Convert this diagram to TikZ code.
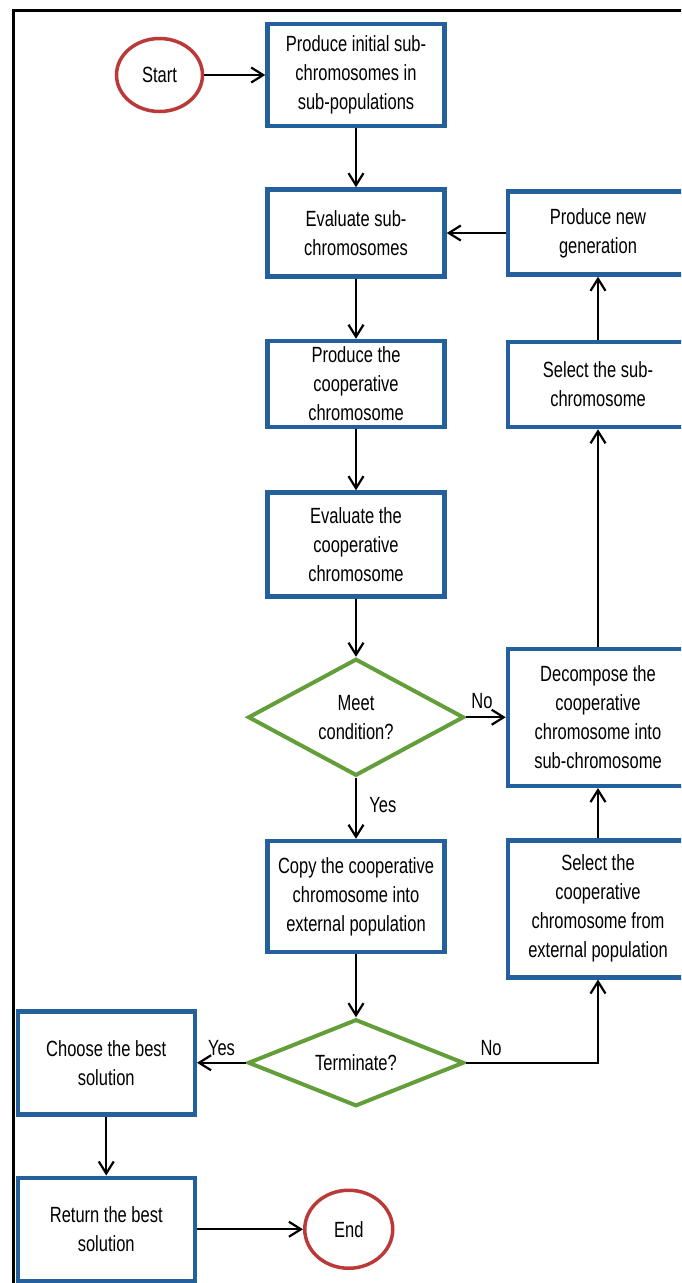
\documentclass[tikz,border=0pt]{standalone}
\usepackage{fontspec}
\setmainfont{Liberation Sans}[FakeStretch=0.75]
\usetikzlibrary{positioning, shapes.geometric, arrows.meta}
\definecolor{boxblue}{RGB}{36,96,156}
\definecolor{condgreen}{RGB}{100,158,58}
\definecolor{termred}{RGB}{186,58,58}

\begin{document}
\begin{tikzpicture}[
        x=1pt, y=1pt,
        font=\fontsize{22}{29}\selectfont,
        proc/.style={rectangle, draw=boxblue, line width=4.5pt, minimum width=177pt, align=center, inner sep=2pt},
        cond/.style={diamond, draw=condgreen, line width=4pt, aspect=2, minimum width=216pt, minimum height=117pt, align=center, inner sep=0pt},
        term/.style={ellipse, draw=termred, line width=3.5pt, minimum width=86pt, minimum height=73pt},
        flow/.style={-{Straight Barb[length=12pt, width=15pt]}, line width=2.2pt}
    ]
        \useasboundingbox (0,0) rectangle (681,-1283);
        \clip (0,0) rectangle (681,-1283);
        \draw[line width=3pt] (13,-10) rectangle (720,-1320);

        \node[proc, minimum height=102pt] (B1) at (356,-75) {Produce initial sub-\\chromosomes in\\sub-populations};
        \node[term, left=61pt of B1] (St) {Start};
        \node[proc, minimum height=87pt, below=59pt of B1] (B2) {Evaluate sub-\\chromosomes};
        \node[proc, minimum height=86pt, below=60pt of B2] (B3) {Produce the\\cooperative\\chromosome};
        \node[proc, minimum height=104pt, below=61pt of B3] (B4) {Evaluate the\\cooperative\\chromosome};
        \node[cond, below=58pt of B4] (D1) {Meet\\condition?};
        \node[proc, minimum height=111pt, below=61pt of D1] (B5) {Copy the cooperative\\chromosome into\\external population};
        \node[cond, minimum height=87pt, below=63pt of B5] (D2) {Terminate?};
        \node[proc, minimum height=103pt, left=49pt of D2] (C1) {Choose the best\\solution};
        \node[proc, minimum height=103pt, below=59pt of C1] (C2) {Return the best\\solution};
        \node[term, minimum width=88pt, minimum height=78pt, right=106pt of C2] (En) {End};

        \node[proc, minimum width=180pt, minimum height=83pt, right=59pt of B2] (N1) {Produce new\\generation};
        \node[proc, minimum width=180pt, minimum height=85pt, below=63pt of N1] (N2) {Select the sub-\\chromosome};
        \node[proc, minimum width=180pt, minimum height=137pt] (N3) at (N1 |- D1) {Decompose the\\cooperative\\chromosome into\\sub-chromosome};
        \node[proc, minimum width=180pt, minimum height=137pt, below=50pt of N3] (N4) {Select the\\cooperative\\chromosome from\\external population};

        \draw[flow] (St) -- (B1);
        \draw[flow] (B1) -- (B2);
        \draw[flow] (B2) -- (B3);
        \draw[flow] (B3) -- (B4);
        \draw[flow] (B4) -- (D1);
        \draw[flow] (D1) -- node[right=9pt, pos=0.45] {Yes} (B5);
        \draw[flow] (B5) -- (D2);
        \draw[flow] (D1) -- node[above=4pt, pos=0.4] {No} (N3);
        \draw[flow] (N3) -- (N2);
        \draw[flow] (N2) -- (N1);
        \draw[flow] (N1) -- (B2);
        \draw[flow] (N4) -- (N3);
        \draw[flow] (D2) -| node[above=3pt, pos=0.095] {No} (N4);
        \draw[flow] (D2) -- node[above=3pt, pos=0.5] {Yes} (C1);
        \draw[flow] (C1) -- (C2);
        \draw[flow] (C2) -- (En);
    \end{tikzpicture}
\end{document}
